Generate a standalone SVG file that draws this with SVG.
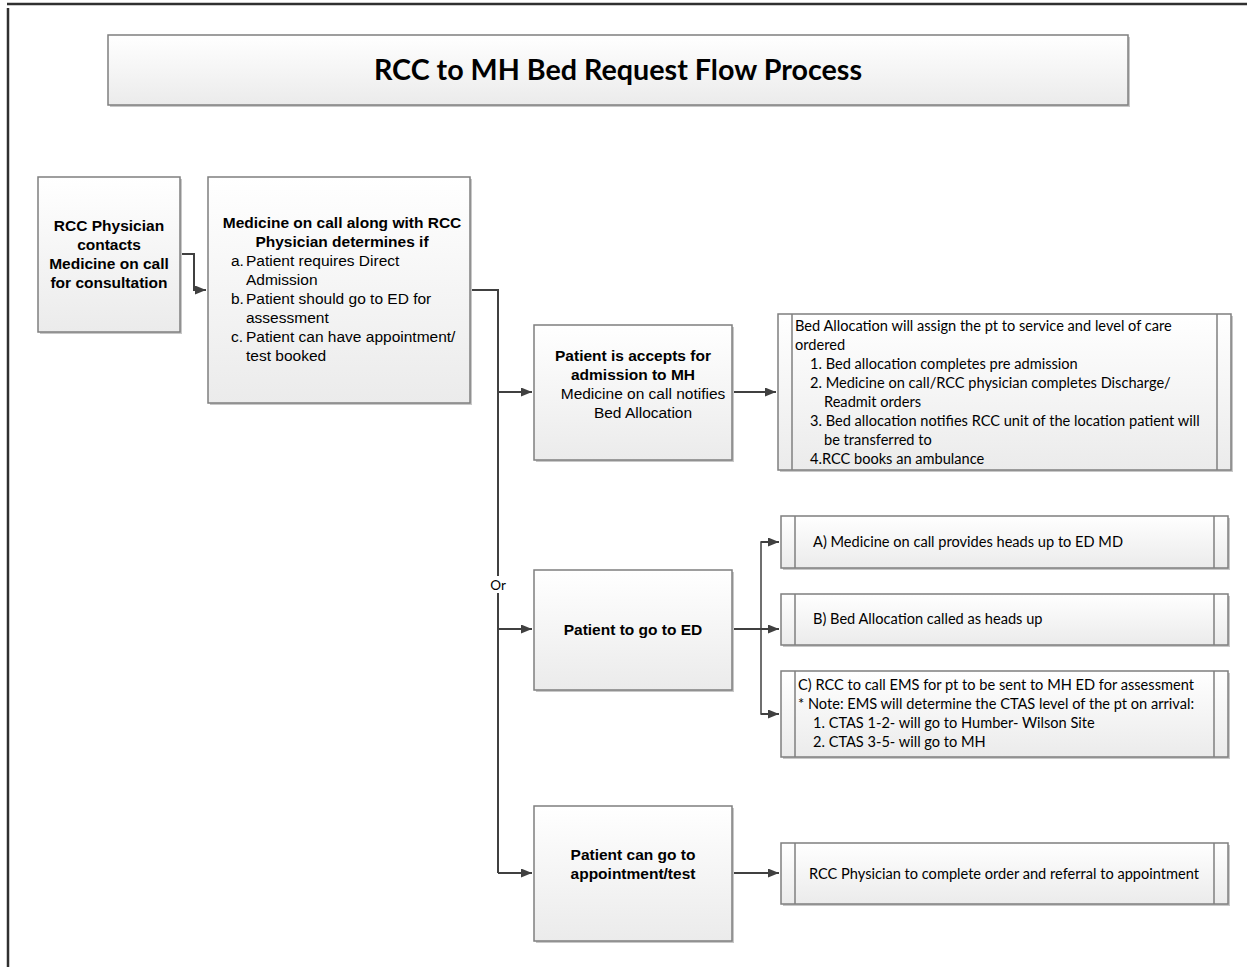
<svg xmlns="http://www.w3.org/2000/svg" width="1250" height="967" viewBox="0 0 1250 967">
<defs>
<linearGradient id="g" x1="0" y1="0" x2="0" y2="1">
<stop offset="0" stop-color="#ffffff"/>
<stop offset="1" stop-color="#ebebeb"/>
</linearGradient>
<marker id="arr" markerWidth="11" markerHeight="9" refX="11" refY="4.5" orient="auto" markerUnits="userSpaceOnUse">
<path d="M0,0 L11,4.5 L0,9 Z" fill="#404040"/>
</marker>
</defs>
<style>
.box{fill:url(#g);stroke:#7f7f7f;stroke-width:1.5}
.sh{fill:#c8c8c8;stroke:none}
.in{stroke:#7f7f7f;stroke-width:1.5}
.b{font-family:"Liberation Sans",Arial,sans-serif;font-size:15.5px;font-weight:bold;fill:#000}
.r{font-family:"Liberation Sans",Arial,sans-serif;font-size:15.5px;fill:#000}
.c{font-family:Lato,"Open Sans",sans-serif;font-size:14.6px;fill:#000}
.t{font-family:Lato,"Open Sans",sans-serif;font-size:28.7px;font-weight:bold;fill:#000}
.ln{fill:none;stroke:#404040;stroke-width:2}
</style>
<rect width="1250" height="967" fill="#fff"/>
<line x1="7" y1="4" x2="1247" y2="4" stroke="#303030" stroke-width="2.5"/>
<line x1="8" y1="8" x2="8" y2="967" stroke="#303030" stroke-width="2.5"/>

<g id="title">
<rect class="sh" x="110" y="37" width="1020" height="70"/>
<rect class="box" x="108" y="35" width="1020" height="70"/>
<text class="t" x="618" y="80" text-anchor="middle">RCC to MH Bed Request Flow Process</text>
</g>

<g id="connectors">
<polyline class="ln" points="180,254 194,254 194,290 206,290" marker-end="url(#arr)"/>
<polyline class="ln" points="470,290 498,290 498,873"/>
<line class="ln" x1="498" y1="392" x2="532" y2="392" marker-end="url(#arr)"/>
<line class="ln" x1="498" y1="629" x2="532" y2="629" marker-end="url(#arr)"/>
<line class="ln" x1="498" y1="873" x2="532" y2="873" marker-end="url(#arr)"/>
<rect x="488" y="576" width="20" height="17" fill="#fff"/>
<text class="c" x="498" y="590" text-anchor="middle" style="font-size:13.5px">Or</text>
<line class="ln" x1="732" y1="392" x2="776" y2="392" marker-end="url(#arr)"/>
<line class="ln" x1="732" y1="629" x2="779" y2="629" marker-end="url(#arr)"/>
<polyline class="ln" points="779,542 761,542 761,714 779,714" style="stroke-width:1.5"/>
<line class="ln" x1="761" y1="542" x2="779" y2="542" marker-end="url(#arr)"/>
<line class="ln" x1="761" y1="714" x2="779" y2="714" marker-end="url(#arr)"/>
<line class="ln" x1="732" y1="873" x2="779" y2="873" marker-end="url(#arr)"/>
</g>

<g id="n1">
<rect class="sh" x="40" y="179" width="142" height="155"/>
<rect class="box" x="38" y="177" width="142" height="155"/>
<text class="b" text-anchor="middle"><tspan x="109" y="231">RCC Physician</tspan><tspan x="109" y="250">contacts</tspan><tspan x="109" y="269">Medicine on call</tspan><tspan x="109" y="288">for consultation</tspan></text>
</g>

<g id="n2">
<rect class="sh" x="210" y="179" width="262" height="226"/>
<rect class="box" x="208" y="177" width="262" height="226"/>
<text class="b" text-anchor="middle"><tspan x="342" y="228">Medicine on call along with RCC</tspan><tspan x="342" y="247">Physician determines if</tspan></text>
<text class="r"><tspan x="231" y="266">a.</tspan><tspan x="246" y="266">Patient requires Direct</tspan><tspan x="246" y="285">Admission</tspan><tspan x="231" y="304">b.</tspan><tspan x="246" y="304">Patient should go to ED for</tspan><tspan x="246" y="323">assessment</tspan><tspan x="231" y="342">c.</tspan><tspan x="246" y="342">Patient can have appointment/</tspan><tspan x="246" y="361">test booked</tspan></text>
</g>

<g id="n3">
<rect class="sh" x="536" y="327" width="198" height="135"/>
<rect class="box" x="534" y="325" width="198" height="135"/>
<text class="b" text-anchor="middle"><tspan x="633" y="361">Patient is accepts for</tspan><tspan x="633" y="380">admission to MH</tspan></text>
<text class="r" text-anchor="middle"><tspan x="643" y="399">Medicine on call notifies</tspan><tspan x="643" y="418">Bed Allocation</tspan></text>
</g>

<g id="n4">
<rect class="sh" x="536" y="572" width="198" height="120"/>
<rect class="box" x="534" y="570" width="198" height="120"/>
<text class="b" x="633" y="635" text-anchor="middle">Patient to go to ED</text>
</g>

<g id="n5">
<rect class="sh" x="536" y="808" width="198" height="135"/>
<rect class="box" x="534" y="806" width="198" height="135"/>
<text class="b" text-anchor="middle"><tspan x="633" y="860">Patient can go to</tspan><tspan x="633" y="879">appointment/test</tspan></text>
</g>

<g id="n6">
<rect class="sh" x="780" y="316" width="453" height="156"/>
<rect class="box" x="778" y="314" width="453" height="156"/>
<line class="in" x1="792" y1="314" x2="792" y2="470"/>
<line class="in" x1="1217" y1="314" x2="1217" y2="470"/>
<text class="c"><tspan x="795" y="331">Bed Allocation will assign the pt to service and level of care</tspan><tspan x="795" y="350">ordered</tspan><tspan x="810" y="369">1. Bed allocation completes pre admission</tspan><tspan x="810" y="388">2. Medicine on call/RCC physician completes Discharge/</tspan><tspan x="824" y="407">Readmit orders</tspan><tspan x="810" y="426">3. Bed allocation notifies RCC unit of the location patient will</tspan><tspan x="824" y="445">be transferred to</tspan><tspan x="810" y="464">4.RCC books an ambulance</tspan></text>
</g>

<g id="n7">
<rect class="sh" x="783" y="518" width="447" height="52"/>
<rect class="box" x="781" y="516" width="447" height="52"/>
<line class="in" x1="795" y1="516" x2="795" y2="568"/>
<line class="in" x1="1214" y1="516" x2="1214" y2="568"/>
<text class="c" x="813" y="547">A) Medicine on call provides heads up to ED MD</text>
</g>

<g id="n8">
<rect class="sh" x="783" y="596" width="447" height="51"/>
<rect class="box" x="781" y="594" width="447" height="51"/>
<line class="in" x1="795" y1="594" x2="795" y2="645"/>
<line class="in" x1="1214" y1="594" x2="1214" y2="645"/>
<text class="c" x="813" y="624">B) Bed Allocation called as heads up</text>
</g>

<g id="n9">
<rect class="sh" x="783" y="673" width="447" height="86"/>
<rect class="box" x="781" y="671" width="447" height="86"/>
<line class="in" x1="795" y1="671" x2="795" y2="757"/>
<line class="in" x1="1214" y1="671" x2="1214" y2="757"/>
<text class="c"><tspan x="798" y="690">C) RCC to call EMS for pt to be sent to MH ED for assessment</tspan><tspan x="798" y="709">* Note: EMS will determine the CTAS level of the pt on arrival:</tspan><tspan x="813" y="728">1. CTAS 1-2- will go to Humber- Wilson Site</tspan><tspan x="813" y="747">2. CTAS 3-5- will go to MH</tspan></text>
</g>

<g id="n10">
<rect class="sh" x="783" y="845" width="447" height="61"/>
<rect class="box" x="781" y="843" width="447" height="61"/>
<line class="in" x1="795" y1="843" x2="795" y2="904"/>
<line class="in" x1="1214" y1="843" x2="1214" y2="904"/>
<text class="c" x="809" y="879">RCC Physician to complete order and referral to appointment</text>
</g>
</svg>
